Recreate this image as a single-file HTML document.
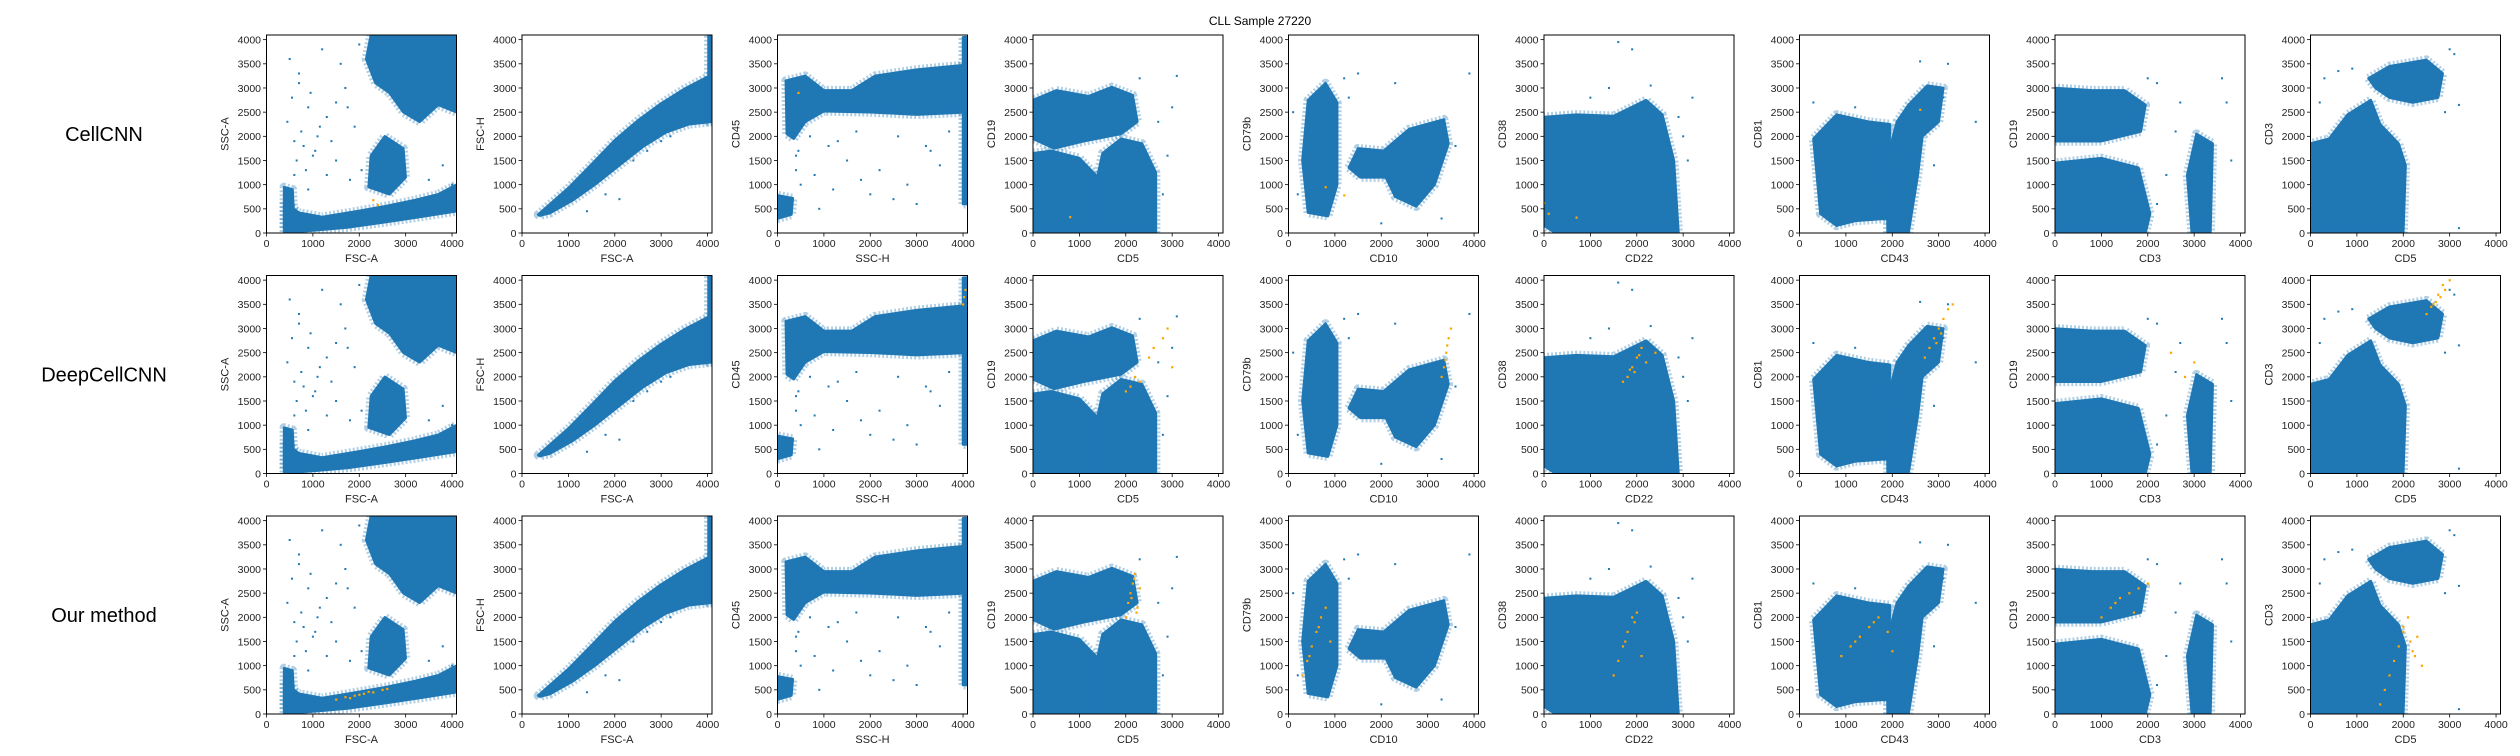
<!DOCTYPE html>
<html><head><meta charset="utf-8">
<style>
html,body{margin:0;padding:0;background:#fff;}
svg{display:block;font-family:"Liberation Sans","DejaVu Sans",sans-serif;}
</style></head>
<body>
<svg id="fig" width="2520" height="756" viewBox="0 0 2520 756" xmlns="http://www.w3.org/2000/svg">
<rect width="2520" height="756" fill="#fff"/>
<text x="1260" y="25" text-anchor="middle" font-size="12" fill="#000">CLL Sample 27220</text>
</svg>
<script>
// ---------- data ----------
const rowNames = ["CellCNN", "DeepCellCNN", "Our method"];
const xLabels = ["FSC-A","FSC-A","SSC-H","CD5","CD10","CD22","CD43","CD3","CD5"];
const yLabels = ["SSC-A","FSC-H","CD45","CD19","CD79b","CD38","CD81","CD19","CD3"];
const xTicks = [0,1000,2000,3000,4000];
const yTicks = [0,500,1000,1500,2000,2500,3000,3500,4000];
const axisMax = 4096;

// dense population regions per panel (data coordinates)
const regions = [
 [ [[380,20],[380,650],[700,420],[1200,330],[2000,460],[2600,560],[3200,680],[3700,800],[4096,1000],[4096,450],[3300,330],[2600,230],[1800,120],[1100,60],[600,20]],
   [[2200,950],[2250,1600],[2550,2000],[2950,1750],[3000,1150],[2650,800]],
   [[2250,4096],[2150,3600],[2350,3100],[2650,2900],[2950,2500],[3300,2300],[3700,2650],[4096,2500],[4096,4096]],
   [[380,100],[380,950],[560,900],[600,200]] ],
 [ [[350,380],[1000,930],[1500,1420],[2000,1920],[2500,2330],[3000,2680],[3500,2980],[4000,3230],[4096,3280],[4096,2300],[3600,2250],[3100,2080],[2600,1780],[2100,1400],[1600,1020],[1100,680],[600,410],[380,360]],
   [[4020,2300],[4020,4096],[4096,4096],[4096,2300]] ],
 [ [[200,2050],[180,3150],[600,3250],[1000,2950],[1600,2950],[2100,3250],[3000,3380],[4096,3480],[4096,2500],[3000,2450],[2000,2500],[1000,2520],[600,2300],[350,1950]],
   [[0,300],[0,780],[330,720],[300,380]],
   [[4000,600],[4000,4050],[4096,4050],[4096,600]] ],
 [ [[0,1950],[0,2750],[500,2950],[1200,2830],[1700,3020],[2150,2850],[2250,2300],[1900,2050],[1100,1900],[450,1750]],
   [[0,0],[0,1650],[400,1700],[1000,1550],[1400,1150],[1550,0]],
   [[1400,0],[1350,1000],[1500,1650],[1900,1950],[2350,1850],[2650,1250],[2650,0]] ],
 [ [[420,420],[300,1500],[420,2750],[800,3100],[1050,2700],[1050,1000],[850,350]],
   [[1300,1350],[1500,1750],[2050,1700],[2600,2150],[3350,2350],[3450,1850],[3150,1000],[2750,550],[2300,750],[2100,1150],[1550,1150]] ],
 [ [[0,150],[0,2400],[700,2450],[1500,2420],[2200,2750],[2550,2450],[2800,1500],[2900,0],[250,0]] ],
 [ [[450,400],[300,1950],[800,2450],[1500,2300],[1950,2250],[1900,300],[1200,250],[800,150]],
   [[1900,0],[1880,1500],[2100,2300],[2350,2650],[2750,3050],[3100,3000],[3000,2300],[2650,2000],[2550,1200],[2350,0]] ],
 [ [[0,1900],[0,3000],[800,2950],[1500,2950],[1950,2650],[1850,2100],[1000,1900]],
   [[0,0],[0,1450],[1000,1550],[1800,1350],[2050,400],[1950,0]],
   [[2950,0],[2850,1200],[3050,2050],[3400,1850],[3350,0]] ],
 [ [[1250,3200],[1700,3450],[2500,3580],[2850,3300],[2750,2800],[2200,2700],[1700,2800],[1400,3000]],
   [[0,0],[0,1850],[400,1950],[800,2450],[1300,2750],[1500,2250],[1900,1850],[2050,1400],[2000,0]] ]
];

// sparse outliers per panel (x,y)
const outliersX = [
 [500,700,900,1100,1300,1500,1700,600,800,1200,1600,1900,1000,450,2000,1800,3500,4000,3800,550,650,750,850,950,1050,1400,1750,2050,700,900,1300,1500,600,1150],
 [1800,1400,2100,1600,2400,3200,3000,2700],
 [400,800,1200,1500,2000,2500,3000,3500,700,1100,1800,2200,600,900,2800,3300,500,1300,1700,2600,3200,3700,400,450],
 [2700,2900,3000,2800,3100,2600,200,2300],
 [100,200,1300,1500,2000,2300,3600,3900,1200,3300],
 [1000,1400,1600,2900,3000,3200,1900,2300,3100],
 [300,1200,2600,3200,3100,3800,2900,1600],
 [2000,2200,2600,2700,3600,3700,3800,2400,2200],
 [300,200,600,900,3100,3200,3000,2900,3200]
];
const outliersY = [
 [3600,3300,2600,2000,2400,1500,3000,1200,1800,3800,3500,2200,1600,2300,3900,1100,1100,1000,1400,2800,1500,2100,1300,2900,1700,1900,2600,1300,3100,900,1200,2700,1900,2200],
 [800,450,700,1100,1500,2000,1900,1700],
 [1600,1200,900,1500,800,700,600,1400,2000,1800,1100,1300,2300,500,1000,1700,1000,1900,2100,2000,1800,2100,1300,1700],
 [2300,1600,2600,800,3250,200,100,3200],
 [2500,800,2800,3300,200,3100,1800,3300,3200,300],
 [2800,3000,3950,2400,2000,2800,3800,3050,1500],
 [2700,2600,3550,3500,2800,2300,1400,500],
 [3200,3100,2100,2700,3200,2700,1500,1200,600],
 [3200,2700,3350,3400,3700,2650,3800,2500,100]
];

// highlighted (orange) cells per row, per panel
const hiX = [
 [[2300,2400],[],[450],[800],[800,1200],[0,700,100],[2600],[],[]],
 [[],[],[4000,4050,4020],[2000,2200,2500,2800,2900,3000,2300,2600,2100],[3300,3350,3400,3450,3500,3380,3420],[1700,1800,1900,2000,2100,2200,1950,2400,1850,2050],[2700,2800,2900,3000,3100,3200,3300,3050,2950],[2500,3000,2800],[2500,2600,2700,2800,2900,3000,2750,2650,2850]],
 [[1500,1700,1900,2100,2300,2500,1800,2000,2200,2600],[],[],[2000,2050,2100,2150,2200,2250,2300,2120,2180,2230],[300,400,500,600,700,800,900,450,650],[1500,1600,1700,1800,1900,2000,2100,1750,1950],[900,1100,1300,1500,1700,1900,1200,1600,2000],[1000,1200,1400,1600,1800,2000,1300,1700],[1500,1600,1700,1800,1900,2000,2100,2200,2300,2400,2000,2150,2250]]
];
const hiY = [
 [[680,580],[],[2900],[330],[950,780],[620,320,400],[2550],[],[]],
 [[],[],[3500,3800,3650],[1700,2000,2400,2800,3000,2200,1900,2600,1800],[2000,2200,2500,2800,3000,2350,2650],[1900,2000,2200,2400,2600,2300,2100,2500,2150,2450],[2400,2600,2800,3000,3200,3400,3500,2900,2700],[2500,2300,2000],[3300,3450,3550,3650,3800,4000,3700,3500,3900]],
 [[300,350,380,420,450,500,330,400,460,520],[],[],[2000,2300,2500,2700,2900,2200,2600,2400,2800,2100],[800,1100,1400,1700,2000,2200,1500,1200,1800],[800,1100,1400,1700,2000,2100,1200,1500,1900],[1200,1400,1600,1800,2000,1700,1500,1900,1300],[2000,2200,2400,2500,2600,2700,2300,2100],[200,500,800,1100,1400,1700,2000,1300,1600,1000,1800,1500,1200]]
];

// ---------- layout ----------
const NS = "http://www.w3.org/2000/svg";
const svg = document.getElementById("fig");
const colLeft = 266.5, colStep = 255.5, axW = 190;
const rowTop = 35, rowStep = 240.5, axH = 198;
const blue = "#1f77b4", orange = "#ffa500";

function mk(tag, attrs, parent){
  const e = document.createElementNS(NS, tag);
  for (const k in attrs) e.setAttribute(k, attrs[k]);
  (parent||svg).appendChild(e);
  return e;
}

rowNames.forEach((rn, r) => {
  const top = rowTop + r*rowStep;
  const lab = mk("text", {x:104, y:top+axH/2+7, "text-anchor":"middle", "font-size":"20", fill:"#000"});
  lab.textContent = rn;
  
  

  for (let c = 0; c < 9; c++) {
    const L = colLeft + c*colStep, B = top + axH;
    const xs = v => L + v/axisMax*axW;
    const ys = v => B - v/axisMax*axH;
    const g = mk("g", {});
    
    
    const clipId = "clip"+r+"_"+c;
    const cp = mk("clipPath", {id:clipId}, g);
    mk("rect", {x:L, y:top, width:axW, height:axH}, cp);
    const pg = mk("g", {"clip-path":"url(#"+clipId+")"}, g);
    regions[c].forEach(poly => {
      const pts = poly.map(q => xs(q[0]).toFixed(1)+","+ys(q[1]).toFixed(1)).join(" ");
      const h = mk("polygon", {points: pts, fill:"none", stroke:blue, "stroke-width":"9", "stroke-opacity":"0.35", "stroke-linejoin":"round", "stroke-dasharray":"2 2"}, pg);
      
      
      const p = mk("polygon", {points: pts, fill:blue, stroke:blue, "stroke-width":"2.5", "stroke-linejoin":"round"}, pg);
      
      
    });
    outliersX[c].forEach((v, i) => {
      const d = mk("rect", {x:xs(v)-1, y:ys(outliersY[c][i])-1, width:2, height:2, fill:blue}, pg);
      
      
    });
    hiX[r][c].forEach((v, i) => {
      const d = mk("rect", {x:xs(v)-1, y:ys(hiY[r][c][i])-1, width:2.2, height:2.2, fill:orange}, pg);
      
      
    });
    const frame = mk("rect", {x:L, y:top, width:axW, height:axH, fill:"none", stroke:"#000", "stroke-width":"1"}, g);
    
    
    xTicks.forEach(t => {
      const X = xs(t);
      mk("line", {x1:X, y1:B, x2:X, y2:B+3.5, stroke:"#000", "stroke-width":"0.8"}, g);
      const tl = mk("text", {x:X, y:B+14, "text-anchor":"middle", "font-size":"10.5", fill:"#222"}, g);
      tl.textContent = t;
      
      
    });
    yTicks.forEach(t => {
      const Y = ys(t);
      mk("line", {x1:L, y1:Y, x2:L-3.5, y2:Y, stroke:"#000", "stroke-width":"0.8"}, g);
      const tl = mk("text", {x:L-5.5, y:Y+3.8, "text-anchor":"end", "font-size":"10.5", fill:"#222"}, g);
      tl.textContent = t;
      
      
    });
    const xl = mk("text", {x:L+axW/2, y:B+29, "text-anchor":"middle", "font-size":"11", fill:"#222"}, g);
    xl.textContent = xLabels[c];
    
    
    const yx = L - 38, yy = top + axH/2;
    const yl = mk("text", {x:yx, y:yy, "text-anchor":"middle", "font-size":"11", fill:"#222", transform:"rotate(-90 "+yx+" "+yy+")"}, g);
    yl.textContent = yLabels[c];
    
    
  }
});
</script>
</body></html>
